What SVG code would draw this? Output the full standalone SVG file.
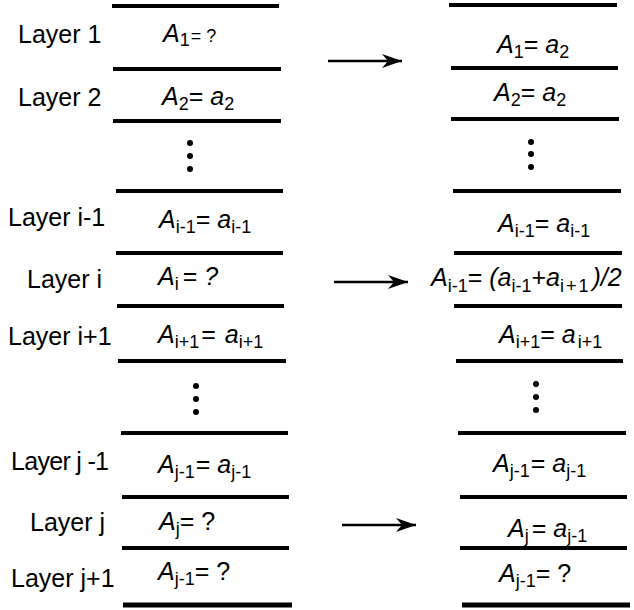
<svg xmlns="http://www.w3.org/2000/svg" width="634" height="610" viewBox="0 0 634 610">
<style>
  text { font-family: "Liberation Sans", Arial, sans-serif; fill: #000; }
  .lbl { font-size: 25px; }
  .eq { font-size: 25px; }
  .it { font-style: italic; }
  .sub { font-size: 18px; }
  .sm { font-size: 18px; }
  .bar { stroke: #000; stroke-width: 4; }
  .barb { stroke: #000; stroke-width: 5; }
  .arr { stroke: #000; stroke-width: 2.5; fill: none; }
  .dot { fill: #000; }
</style>
<defs>
  <marker id="ah" markerWidth="22" markerHeight="16" refX="20" refY="8" orient="auto" markerUnits="userSpaceOnUse">
    <path d="M0,1 L20,8 L0,15 L6,8 Z" fill="#000"/>
  </marker>
</defs>
<rect width="634" height="610" fill="#fff"/>

<g id="layer-lines-left">
  <line class="bar" x1="112" y1="6" x2="279" y2="6"/>
  <line class="bar" x1="113" y1="69" x2="281" y2="69"/>
  <line class="bar" x1="113" y1="121" x2="281" y2="121"/>
  <line class="bar" x1="116" y1="191" x2="283" y2="191"/>
  <line class="bar" x1="116" y1="253" x2="283" y2="253"/>
  <line class="bar" x1="117" y1="306" x2="284" y2="306"/>
  <line class="bar" x1="118" y1="361" x2="286" y2="361"/>
  <line class="bar" x1="121" y1="433" x2="288" y2="433"/>
  <line class="bar" x1="122" y1="497" x2="289" y2="497"/>
  <line class="bar" x1="122" y1="548" x2="289" y2="548"/>
  <line class="barb" x1="123" y1="605" x2="292" y2="605"/>
</g>
<g id="layer-lines-right">
  <line class="bar" x1="449" y1="5" x2="617" y2="5"/>
  <line class="bar" x1="451" y1="68" x2="618" y2="68"/>
  <line class="bar" x1="451" y1="119" x2="619" y2="119"/>
  <line class="bar" x1="453" y1="191" x2="621" y2="191"/>
  <line class="bar" x1="454" y1="253" x2="622" y2="253"/>
  <line class="bar" x1="454" y1="306" x2="622" y2="306"/>
  <line class="bar" x1="456" y1="361" x2="623" y2="361"/>
  <line class="bar" x1="458" y1="433" x2="626" y2="433"/>
  <line class="bar" x1="460" y1="497" x2="627" y2="497"/>
  <line class="bar" x1="460" y1="548" x2="627" y2="548"/>
  <line class="barb" x1="462" y1="605" x2="630" y2="605"/>
</g>

<g id="labels">
  <text class="lbl" x="18" y="43">Layer 1</text>
  <text class="lbl" x="18" y="106">Layer 2</text>
  <text class="lbl" x="8" y="226">Layer i-1</text>
  <text class="lbl" x="27" y="288">Layer i</text>
  <text class="lbl" x="8" y="345">Layer i+1</text>
  <text class="lbl" x="11" y="470" textLength="98" lengthAdjust="spacing">Layer j -1</text>
  <text class="lbl" x="30" y="531">Layer j</text>
  <text class="lbl" x="11" y="587">Layer j+1</text>
</g>

<g id="left-layer-1"><text class="eq" x="163" y="42"><tspan class="it">A</tspan><tspan class="sub" dy="4">1</tspan><tspan class="sm" dy="-4" dx="1">= ?</tspan></text></g>
<g id="left-layer-2"><text class="eq" x="162" y="105"><tspan class="it">A</tspan><tspan class="sub" dy="5">2</tspan><tspan dy="-5">= </tspan><tspan class="it">a</tspan><tspan class="sub" dy="5">2</tspan></text></g>
<g id="left-dots-1"><circle class="dot" cx="190" cy="143" r="3"/><circle class="dot" cx="190" cy="156" r="3"/><circle class="dot" cx="190" cy="169" r="3"/></g>
<g id="left-layer-i-1"><text class="eq" x="159" y="228"><tspan class="it">A</tspan><tspan class="sub" dy="5">i-1</tspan><tspan dy="-5">= </tspan><tspan class="it">a</tspan><tspan class="sub" dy="5">i-1</tspan></text></g>
<g id="left-layer-i"><text class="eq" x="158" y="285"><tspan class="it">A</tspan><tspan class="sub" dy="5">i</tspan><tspan dy="-5" dx="4">= </tspan><tspan class="it">?</tspan></text></g>
<g id="left-layer-i+1"><text class="eq" x="158" y="343"><tspan class="it">A</tspan><tspan class="sub" dy="5">i+1</tspan><tspan dy="-5" dx="2">= </tspan><tspan class="it" dx="2">a</tspan><tspan class="sub" dy="5">i+1</tspan></text></g>
<g id="left-dots-2"><circle class="dot" cx="196" cy="386" r="3"/><circle class="dot" cx="196" cy="399" r="3"/><circle class="dot" cx="196" cy="412" r="3"/></g>
<g id="left-layer-j-1"><text class="eq" x="158" y="473"><tspan class="it">A</tspan><tspan class="sub" dy="5">j-1</tspan><tspan dy="-5" dx="1">= </tspan><tspan class="it">a</tspan><tspan class="sub" dy="5">j-1</tspan></text></g>
<g id="left-layer-j"><text class="eq" x="159" y="530"><tspan class="it">A</tspan><tspan class="sub" dy="5">j</tspan><tspan dy="-5">= ?</tspan></text></g>
<g id="left-layer-j+1"><text class="eq" x="158" y="580"><tspan class="it">A</tspan><tspan class="sub" dy="5">j-1</tspan><tspan dy="-5">= ?</tspan></text></g>

<g id="right-layer-1"><text class="eq" x="497" y="53"><tspan class="it">A</tspan><tspan class="sub" dy="5">1</tspan><tspan dy="-5">= </tspan><tspan class="it">a</tspan><tspan class="sub" dy="5">2</tspan></text></g>
<g id="right-layer-2"><text class="eq" x="494" y="101"><tspan class="it">A</tspan><tspan class="sub" dy="5">2</tspan><tspan dy="-5">= </tspan><tspan class="it">a</tspan><tspan class="sub" dy="5">2</tspan></text></g>
<g id="right-dots-1"><circle class="dot" cx="531" cy="142" r="3"/><circle class="dot" cx="531" cy="154" r="3"/><circle class="dot" cx="531" cy="167" r="3"/></g>
<g id="right-layer-i-1"><text class="eq" x="498" y="232"><tspan class="it">A</tspan><tspan class="sub" dy="5">i-1</tspan><tspan dy="-5">= </tspan><tspan class="it">a</tspan><tspan class="sub" dy="5">i-1</tspan></text></g>
<g id="right-layer-i"><text class="eq" x="431" y="286"><tspan class="it">A</tspan><tspan class="sub" dy="6">i-1</tspan><tspan dy="-6">= </tspan><tspan class="it">(a</tspan><tspan class="sub" dy="6">i-1</tspan><tspan dy="-6">+</tspan><tspan class="it">a</tspan><tspan class="sub" dy="6" letter-spacing="2">i+1</tspan><tspan class="it" dy="-6" dx="2">)/2</tspan></text></g>
<g id="right-layer-i+1"><text class="eq" x="499" y="343"><tspan class="it">A</tspan><tspan class="sub" dy="5">i+1</tspan><tspan dy="-5">= </tspan><tspan class="it">a</tspan><tspan class="sub" dy="5" dx="2">i+1</tspan></text></g>
<g id="right-dots-2"><circle class="dot" cx="536" cy="384" r="3"/><circle class="dot" cx="536" cy="397" r="3"/><circle class="dot" cx="536" cy="410" r="3"/></g>
<g id="right-layer-j-1"><text class="eq" x="493" y="472"><tspan class="it">A</tspan><tspan class="sub" dy="5">j-1</tspan><tspan dy="-5" dx="1">= </tspan><tspan class="it">a</tspan><tspan class="sub" dy="5">j-1</tspan></text></g>
<g id="right-layer-j"><text class="eq" x="508" y="537"><tspan class="it">A</tspan><tspan class="sub" dy="5">j</tspan><tspan dy="-5" dx="3">= </tspan><tspan class="it">a</tspan><tspan class="sub" dy="5">j-1</tspan></text></g>
<g id="right-layer-j+1"><text class="eq" x="499" y="582"><tspan class="it">A</tspan><tspan class="sub" dy="5">j-1</tspan><tspan dy="-5">= ?</tspan></text></g>

<g id="connectors">
  <line class="arr" x1="328" y1="61" x2="402" y2="61" marker-end="url(#ah)"/>
  <line class="arr" x1="334" y1="282" x2="408" y2="282" marker-end="url(#ah)"/>
  <line class="arr" x1="342" y1="525" x2="416" y2="525" marker-end="url(#ah)"/>
</g>
</svg>
